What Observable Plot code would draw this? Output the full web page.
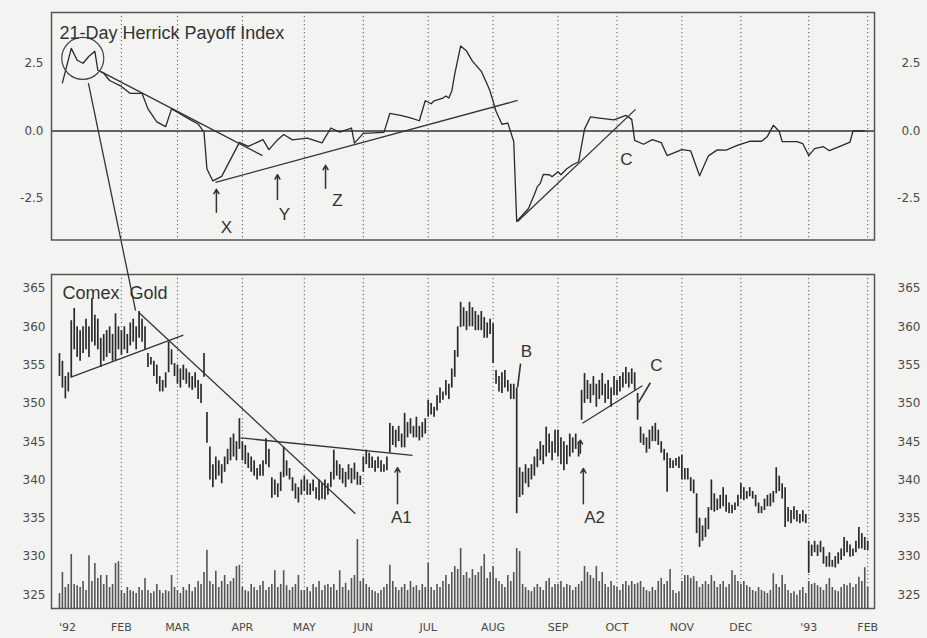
<!DOCTYPE html>
<html>
<head>
<meta charset="utf-8">
<script src="https://cdn.jsdelivr.net/npm/d3@7"></script>
<script src="https://cdn.jsdelivr.net/npm/@observablehq/plot@0.6"></script>
<style>
  html, body { margin: 0; padding: 0; background: #f3f3f1; }
  #chart { position: relative; width: 927px; height: 638px; background: #f3f3f1; }
  #chart > svg { position: absolute; left: 0; top: 0; }
</style>
</head>
<body>
<div id="chart"></div>
<script>
// ---------- DATA (x = trading-day index from 2 Jan 1992) ----------
const priceHigh = [
  356.5,355.5,353.5,354,360.8,362.4,360,359.5,360,361,360,363.7,361.5,361,358.5,359,359.5,360,359,361.7,360,
  359.5,360,359,360.5,361,360,362,361,360,356.5,356,355.5,355,353.5,353,354,358,357,355.2,
  355,354.5,355,354.5,354,353.5,354,353,352.5,356.5,348.8,344.3,342,343,342.5,342,343,344,345.5,346,345,348,
  345,344.5,343.5,343,342.5,341.5,342,342.5,345.4,344,340.3,340,339.5,341,344.3,342.5,341.5,340.3,339.5,339,340,
  340.5,340,339.5,340,339,340,339.5,340,339.5,341,343.9,342.5,342,341.5,341,342,341.5,342.2,341,340.5,
  343,343.9,343.5,343,342.5,343,342.5,342,343,347.4,347,346.5,347,346,348.7,347.5,348,347,348.2,347,347.5,348,
  350.4,350,349.5,351,352,351.5,353,352.5,354.5,356.9,360,363.2,362.5,362,363.2,362.5,362,361.5,362,361.2,360.5,361,
  360.4,354.3,353.5,354,354.3,353,352.5,352.5,352,341.6,341,342,341.5,342,343,344,345,344.5,346.9,346,345,346.5,
  346.5,345.5,345,344.5,346,345.5,346,345,351.7,353.9,353,352.5,353.5,352.5,353,353.9,352.5,353,352,353.5,
  353,353.5,354,354.7,354,354.5,354,351.3,346.9,346,345.5,346.5,347,347.4,346.5,345,344,343.5,342.8,342.5,342.8,343,
  343.2,341.5,341.5,340.3,340,338.2,335,334,335,336.4,340,338.2,337.5,338,339,338,337,336.7,337,338,
  339.5,339,338.5,339,338.5,338,337,336.5,337.5,338,338.2,338.5,341.6,340.5,339.5,339,336.4,336,336.5,336,335.5,336,335.5,
  332,331.5,332,331.5,332,331.2,330,330.5,329.5,330,330.5,331,332.5,332,331.5,331,332,333.8,333,332.5,332
];
const priceLow = [
  353.5,352,350.6,351.5,353.4,357,356,355.5,356.5,357,356,358,357.5,357,354.7,355.5,356,356.5,355.5,355.6,357,
  356.3,357,356.5,357.5,358,357,358.5,358,357,354.7,355,353.5,352.5,351.5,351.5,352,354,355,353.5,
  352.5,352,353,352.5,352,351.7,352,350.5,350,353.4,344.8,340,339,340,340.5,339.5,341,342,342.5,343,342.5,344,
  342.5,342,341.5,341,340.5,340,340.5,340.5,342,341.6,337.6,338,337.7,338.5,340.3,340.5,340,338.5,337.5,337,338,
  338.5,338,338,338.5,337.5,337.3,337.5,337.4,338,339,340,340.5,340,339.5,339,340,339.5,340,339.3,339.3,
  341,342,341.5,341.5,341,341.5,341,341,341.2,343.5,344.5,344.2,345,344.2,344.2,345.5,346,345.5,345.5,345.1,345.5,346,
  348.2,348.5,348.2,349,350,350.4,351,350.5,352,353.4,356,359.9,360,359.5,360,360,359.5,359.5,359.5,358.5,358.5,359,
  355.2,352.5,351.5,351.3,352,351.5,350.5,350.5,335.6,337.7,338,339.5,339,340,340.5,341.6,342.5,342,343,343.5,342.5,343.5,
  343,342,341.2,342,343,343.5,344,343,347.8,350,350.5,350,351,349.5,350.5,351,350,350.5,349.5,351,
  351,351.5,352,352.5,352,352.5,351.7,347.8,344.8,344.5,343.5,344,345,345,344.5,343.5,342.5,338.4,341.5,341.5,341.8,341.5,
  340,340,340,338.5,338.2,333,331.2,332,332.5,333.5,336,335.8,336,336.2,336.5,335.8,335.6,335.6,336,336.5,
  337.5,337.3,337.5,337.8,337.5,336.5,335.6,335.6,336,336.5,336.5,337,338.2,338.5,337.5,333.8,334.5,334.3,334.8,334.5,334.3,334.5,334.3,
  327.8,330,330.5,330,330.5,329,328.6,328.6,328.6,328.5,329,329.5,330,330.5,329.9,330,330.5,331,331,330.8,330.8
];
const volume = [
  25,60,35,40,90,40,38,35,45,30,88,45,75,50,55,40,55,35,40,75,78,
  30,25,35,30,28,25,35,30,50,30,25,28,40,30,25,30,28,55,35,
  30,25,35,30,40,28,35,45,40,60,97,45,40,62,35,45,55,40,45,50,70,72,
  35,30,28,40,35,30,38,45,30,35,40,63,35,40,63,38,30,35,40,55,30,
  30,35,28,40,35,45,30,38,40,35,40,30,63,35,42,30,50,55,115,45,
  50,40,35,30,28,25,30,35,40,72,45,35,30,35,40,30,45,35,38,30,40,35,
  75,35,30,40,35,45,55,40,60,70,65,100,55,60,50,65,55,60,70,90,50,60,
  70,50,45,40,35,55,45,60,100,95,40,35,30,28,35,40,35,30,45,50,35,40,
  40,45,35,40,38,30,35,40,45,70,60,55,50,70,45,60,40,35,45,38,
  35,30,40,45,38,45,40,42,45,35,30,28,35,30,45,50,40,45,65,30,25,28,
  45,55,55,50,53,45,35,40,45,40,55,45,35,40,45,35,40,63,55,45,
  40,45,38,35,30,28,35,30,28,25,30,58,40,35,55,40,30,25,28,22,30,35,25,
  45,40,42,38,35,30,40,50,35,30,28,35,40,38,42,35,40,52,45,68,35
];
const hpiDay = [1,4,6,8,10,12,13,15,17,21,24,28,30,33,36,38,41,44,47,49,50,52,55,58,61,64,69,71,74,76,79,84,88,89,92,95,99,100,103,110,112,116,119,122,124,126,127,130,131,132,133,134,136,138,140,143,145,146,148,150,152,154,155,159,161,162,163,164,166,167,169,170,172,174,176,178,180,183,188,192,194,195,198,201,204,206,211,214,217,220,223,226,230,234,238,240,242,244,245,250,252,254,256,259,261,265,268,269,273];
const hpiVal = [1.78,3.06,2.62,2.51,2.77,2.95,2.25,2.14,1.87,1.65,1.39,1.39,0.82,0.34,0.16,0.82,0.63,0.44,0.26,-0.04,-1.41,-1.85,-1.68,-1.05,-0.42,-0.57,-0.32,-0.69,-0.32,-0.13,-0.33,-0.26,-0.40,-0.44,0.11,-0.04,0.11,-0.45,-0.09,-0.05,0.65,0.57,0.49,0.38,1.12,1.01,1.12,1.22,1.30,1.22,1.48,2.11,3.15,2.96,2.59,2.21,1.73,1.47,0.73,0.25,0.29,-0.39,-3.35,-2.87,-2.35,-2.06,-1.94,-1.61,-1.62,-1.69,-1.51,-1.62,-1.40,-1.25,-1.14,0.07,0.52,0.48,0.41,0.58,0.43,-0.35,-0.49,-0.32,-0.43,-0.91,-0.69,-0.74,-1.66,-0.92,-0.70,-0.71,-0.52,-0.38,-0.38,-0.20,0.21,-0.01,-0.39,-0.39,-0.47,-0.91,-0.65,-0.58,-0.73,-0.55,-0.41,0.0,0.0];

const monthDays = [21,40,62,83,103,125,147,169,189,211,231,254,274];
const monthLabelDays = [2.7,21,40,62,83,103,125,147,169,189,211,231,254,274];
const monthLabels = ["'92","FEB","MAR","APR","MAY","JUN","JUL","AUG","SEP","OCT","NOV","DEC","'93","FEB"];
const hpiTicks = [2.5, 0, -2.5];
const priceTicks = [365,360,355,350,345,340,335,330,325];

// annotations (data coordinates)
const hpiTrend = [
  {x1:13.9, y1:2.21, x2:68.8, y2:-0.91},
  {x1:52.9, y1:-1.90, x2:155.3, y2:1.13},
  {x1:155.3, y1:-3.35, x2:195.3, y2:0.80}
];
const hpiConnector = [{x1:9.8, y1:1.77, x2:25.8, y2:-6.65}];
const hpiCircle = [{x:7.9, y:2.69}];
const hpiArrows = [
  {x1:53.2, y1:-3.01, x2:53.2, y2:-2.16},
  {x1:73.9, y1:-2.54, x2:73.9, y2:-1.62},
  {x1:90.2, y1:-2.12, x2:90.2, y2:-1.27}
];
const hpiLetters = [
  {x:56.6, y:-3.57, t:"X"}, {x:76.3, y:-3.10, t:"Y"}, {x:94.2, y:-2.56, t:"Z"}, {x:192.2, y:-1.06, t:"C"}
];
const priceTrend = [
  {x1:3.7, y1:353.4, x2:42.0, y2:358.9},
  {x1:26.8, y1:361.9, x2:100.3, y2:335.6},
  {x1:61.4, y1:345.5, x2:119.7, y2:343.2},
  {x1:177.3, y1:347.4, x2:197.6, y2:352.3}
];
const priceArrows = [
  {x1:114.6, y1:336.9, x2:114.6, y2:341.6},
  {x1:177.6, y1:336.9, x2:177.6, y2:341.5},
  {x1:176.6, y1:343.5, x2:176.6, y2:345.2}
];
const priceLeaders = [
  {x1:156.3, y1:355.2, x2:155.3, y2:352.1},
  {x1:200.3, y1:352.7, x2:196.3, y2:350.1}
];
const priceLetters = [
  {x:158.3, y:356.8, t:"B"}, {x:115.9, y:335.1, t:"A1"}, {x:181.4, y:335.1, t:"A2"}, {x:202.4, y:354.95, t:"C"}
];

// ---------- DRAWING ----------
const W = 927, H = 638;
const xDomain = [-2.7, 276.3];
const days = d3.range(priceHigh.length);
const hpi = hpiDay.map((d, i) => ({d, v: hpiVal[i]}));
const INK = "#2a2a2a";
const LAB = "#4a4a4a";
const tickFont = "DejaVu Sans";
const textFont = "Liberation Sans, Arial, sans-serif";

function make(opts) {
  return Plot.plot({
    width: W, height: H,
    marginLeft: 51, marginRight: 53,
    marginTop: opts.mt, marginBottom: opts.mb,
    x: {domain: xDomain, axis: null},
    y: {domain: opts.y, axis: null},
    style: {background: "transparent", overflow: "visible"},
    marks: opts.marks
  });
}

// volume (own scale, same frame as price panel)
const volPlot = make({
  mt: 274, mb: 30, y: [0, 556.7],
  marks: [
    Plot.ruleX(days, {x: d => d, y1: 0, y2: i => volume[i], stroke: "#555", strokeWidth: 1.6})
  ]
});

// price panel
const pricePlot = make({
  mt: 274, mb: 30, y: [323.22, 366.83],
  marks: [
    Plot.ruleX(monthDays, {stroke: "#555", strokeDasharray: "1.2,2.8", strokeWidth: 1}),
    Plot.ruleX(days, {x: d => d, y1: i => priceLow[i], y2: i => priceHigh[i], stroke: INK, strokeWidth: 1.7}),
    Plot.link(priceTrend, {x1: "x1", y1: "y1", x2: "x2", y2: "y2", stroke: "#333", strokeWidth: 1.3}),
    Plot.link(priceLeaders, {x1: "x1", y1: "y1", x2: "x2", y2: "y2", stroke: "#333", strokeWidth: 1.6}),
    Plot.arrow(priceArrows, {x1: "x1", y1: "y1", x2: "x2", y2: "y2", stroke: "#333", strokeWidth: 1.5, headLength: 5}),
    Plot.text(priceLetters, {x: "x", y: "y", text: "t", fontSize: 17, fontFamily: textFont, fill: "#333"}),
    Plot.text(["Comex  Gold"], {frameAnchor: "top-left", dx: 11, dy: 12, textAnchor: "start", fontSize: 18, fontFamily: textFont, fill: "#333"}),
    Plot.frame({stroke: "#555", strokeWidth: 1.5}),
    Plot.text(priceTicks, {y: d => d, text: d => String(d), frameAnchor: "left", dx: -6, textAnchor: "end", fontSize: 12, fontFamily: tickFont, fill: LAB, ariaLabel: "ticks"}),
    Plot.text(priceTicks, {y: d => d, text: d => String(d), frameAnchor: "right", dx: 46, textAnchor: "end", fontSize: 12, fontFamily: tickFont, fill: LAB, ariaLabel: "ticks"}),
    Plot.text(monthLabelDays, {x: d => d, text: (d, i) => monthLabels[i], frameAnchor: "bottom", dy: 22, fontSize: 11, fontFamily: tickFont, fill: LAB, ariaLabel: "ticks"})
  ]
});

// HPI panel
const hpiPlot = make({
  mt: 12, mb: 398.5, y: [-4.037, 4.389],
  marks: [
    Plot.ruleX(monthDays, {stroke: "#555", strokeDasharray: "1.2,2.8", strokeWidth: 1}),
    Plot.ruleY([0], {stroke: "#333", strokeWidth: 1.5}),
    Plot.line(hpi, {x: "d", y: "v", stroke: INK, strokeWidth: 1.3}),
    Plot.link(hpiTrend, {x1: "x1", y1: "y1", x2: "x2", y2: "y2", stroke: "#333", strokeWidth: 1.3}),
    Plot.link(hpiConnector, {x1: "x1", y1: "y1", x2: "x2", y2: "y2", stroke: "#333", strokeWidth: 1.3}),
    Plot.dot(hpiCircle, {x: "x", y: "y", r: 21, stroke: "#444", fill: "none", strokeWidth: 1.2}),
    Plot.arrow(hpiArrows, {x1: "x1", y1: "y1", x2: "x2", y2: "y2", stroke: "#333", strokeWidth: 1.5, headLength: 5}),
    Plot.text(hpiLetters, {x: "x", y: "y", text: "t", fontSize: 17, fontFamily: textFont, fill: "#333"}),
    Plot.text(["21-Day Herrick Payoff Index"], {frameAnchor: "top-left", dx: 8, dy: 13.5, textAnchor: "start", fontSize: 18, fontFamily: textFont, fill: "#333"}),
    Plot.frame({stroke: "#555", strokeWidth: 1.5}),
    Plot.text(hpiTicks, {y: d => d, text: d => d.toFixed(1), frameAnchor: "left", dx: -8, textAnchor: "end", fontSize: 12, fontFamily: tickFont, fill: LAB, ariaLabel: "ticks"}),
    Plot.text(hpiTicks, {y: d => d, text: d => d.toFixed(1), frameAnchor: "right", dx: 46, textAnchor: "end", fontSize: 12, fontFamily: tickFont, fill: LAB, ariaLabel: "ticks"})
  ]
});

const chart = document.getElementById("chart");
for (const p of [volPlot, pricePlot, hpiPlot]) {
  d3.select(p).selectAll('g[aria-label="ticks"]').style("letter-spacing", "1.2px");
  chart.appendChild(p);
}
</script>
</body>
</html>
